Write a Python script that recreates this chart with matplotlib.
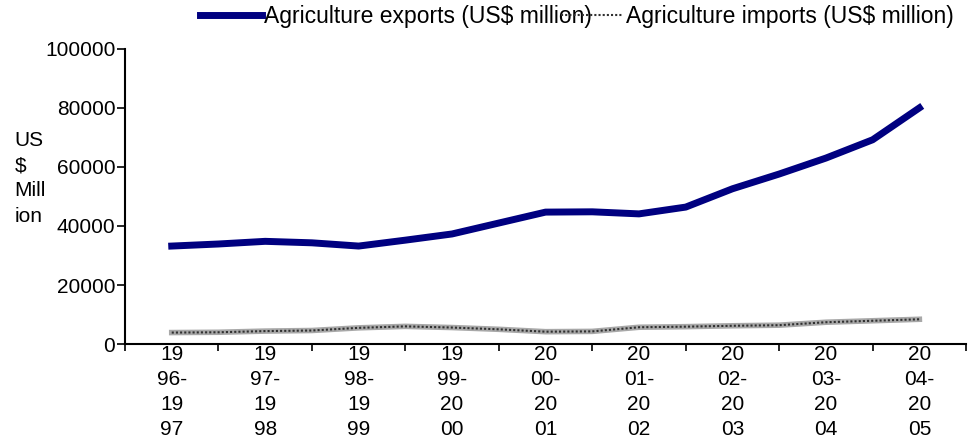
import numpy as np
import matplotlib.pyplot as plt

plt.rcParams['font.family'] = ['Liberation Sans', 'DejaVu Sans']

years = ["19\n96-\n19\n97", "19\n97-\n19\n98", "19\n98-\n19\n99", "19\n99-\n20\n00",
         "20\n00-\n20\n01", "20\n01-\n20\n02", "20\n02-\n20\n03", "20\n03-\n20\n04",
         "20\n04-\n20\n05"]

# values read at half-year steps (0, 0.5, 1, ... 8)
steps = np.arange(0, 8.01, 0.5)
exports = [33200, 33900, 34800, 34300, 33200, 35200, 37300, 41000, 44700,
           44800, 44100, 46400, 52600, 57600, 63000, 69200, 80000]
imports = [3900, 4000, 4400, 4600, 5500, 6000, 5600, 5000, 4200,
           4300, 5700, 5900, 6200, 6400, 7400, 7900, 8400]

fs = 15

fig = plt.figure(figsize=(9.69, 4.4), dpi=100)
ax = fig.add_axes([0.129, 0.218, 0.868, 0.671])

ax.plot(steps, exports, color='#000080', lw=5, solid_joinstyle='round',
        label='Agriculture exports (US$ million)')
ax.plot(steps, imports, color='#a8a8a8', lw=4)
ax.plot(steps, imports, color='#303030', lw=1.5, ls=(0, (1, 1)),
        label='Agriculture imports (US$ million)')

ax.set_xlim(-0.5, 8.5)
ax.set_ylim(0, 100000)
ax.set_yticks(np.arange(0, 100001, 20000))
ax.set_xticks(np.arange(-0.5, 8.6, 1))
ax.set_xticklabels([])
ax.set_xticks(np.arange(0, 9), minor=True)
ax.set_xticklabels(years, minor=True, fontsize=fs, linespacing=1.4)
ax.tick_params(axis='x', which='minor', length=0, pad=1)
ax.tick_params(axis='x', which='major', length=5, width=1.2, direction='out')
ax.tick_params(axis='y', length=6, width=1.2, labelsize=fs, pad=1)

for s in ['top', 'right']:
    ax.spines[s].set_visible(False)
for s in ['left', 'bottom']:
    ax.spines[s].set_linewidth(1.5)

fig.text(0.015, 0.595, "US\n$\nMill\nion", fontsize=fs, va='center', ha='left',
         linespacing=1.42)

ax.legend(loc='upper left', bbox_to_anchor=(0.078, 1.18), ncol=2, frameon=False,
          fontsize=16.5, handlelength=2.7, handletextpad=0.12, columnspacing=-1.35,
          borderaxespad=0)

fig.savefig('out.png', dpi=100)
